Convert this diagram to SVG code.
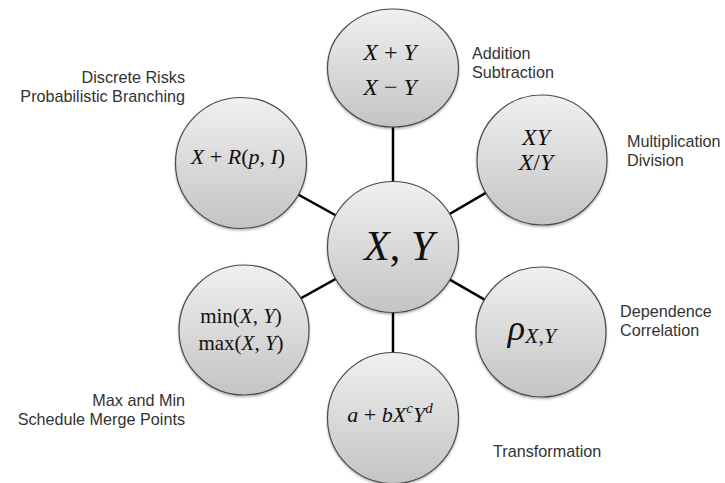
<svg xmlns="http://www.w3.org/2000/svg" width="725" height="483" viewBox="0 0 725 483">
<defs>
<linearGradient id="g" x1="0" y1="0" x2="0" y2="1">
<stop offset="0" stop-color="#f0f0f0"/>
<stop offset="1" stop-color="#c4c4c4"/>
</linearGradient>
<filter id="sh" x="-10%" y="-10%" width="120%" height="125%">
<feDropShadow dx="0" dy="1.5" stdDeviation="1.2" flood-color="#000" flood-opacity="0.3"/>
</filter>
<style>
.n{fill:url(#g);stroke:#4a4a4a;stroke-width:1.2;filter:url(#sh)}
.c line{stroke:#000;stroke-width:2.5}
.lbl{font-family:"Liberation Sans",Arial,sans-serif;font-size:16.2px;fill:#333}
.r{text-anchor:end}
.m{font-family:"Liberation Serif","Times New Roman",serif;font-style:italic;fill:#111;text-anchor:middle}
.u{font-style:normal}
</style>
</defs>
<rect width="725" height="483" fill="#fff"/>
<g id="connectors" class="c">
<line x1="393" y1="247" x2="393" y2="68"/>
<line x1="393" y1="247" x2="542" y2="160"/>
<line x1="393" y1="247" x2="541" y2="332"/>
<line x1="393" y1="247" x2="393" y2="418"/>
<line x1="393" y1="247" x2="244" y2="330"/>
<line x1="393" y1="247" x2="241" y2="163"/>
</g>
<g id="center">
<circle class="n" cx="393" cy="247" r="65.5"/>
<text class="m" x="399" y="260" font-size="42">X<tspan class="u">, </tspan>Y</text>
</g>
<g id="addsub">
<ellipse class="n" cx="393" cy="68" rx="65.5" ry="59"/>
<text class="m" x="390" y="60" font-size="24">X <tspan class="u">+</tspan> Y</text>
<text class="m" x="390" y="95" font-size="24">X <tspan class="u">−</tspan> Y</text>
</g>
<g id="multdiv">
<circle class="n" cx="542" cy="160" r="65"/>
<text class="m" x="536" y="145" font-size="24">XY</text>
<text class="m" x="536" y="170" font-size="24">X<tspan class="u">/</tspan>Y</text>
</g>
<g id="dependence">
<circle class="n" cx="541" cy="332" r="65"/>
<text class="m" x="532" y="340" font-size="36">ρ<tspan font-size="22" dy="3">X<tspan class="u">,</tspan>Y</tspan></text>
</g>
<g id="transformation">
<circle class="n" cx="393" cy="418" r="65.5"/>
<text class="m" x="390" y="422" font-size="22">a <tspan class="u">+</tspan> bX<tspan font-size="15" dy="-9">c</tspan><tspan dy="9">Y</tspan><tspan font-size="15" dy="-9">d</tspan></text>
</g>
<g id="minmax">
<circle class="n" cx="244" cy="330" r="65"/>
<text class="m" x="241" y="323" font-size="21"><tspan class="u">min(</tspan>X<tspan class="u">, </tspan>Y<tspan class="u">)</tspan></text>
<text class="m" x="241" y="350" font-size="21"><tspan class="u">max(</tspan>X<tspan class="u">, </tspan>Y<tspan class="u">)</tspan></text>
</g>
<g id="discrete">
<circle class="n" cx="241" cy="163" r="65.5"/>
<text class="m" x="238" y="164" font-size="22">X <tspan class="u">+</tspan> R<tspan class="u">(</tspan>p<tspan class="u">, </tspan>I<tspan class="u">)</tspan></text>
</g>
<g id="labels">
<text class="lbl" x="472" y="59">Addition</text>
<text class="lbl" x="472" y="78">Subtraction</text>
<text class="lbl" x="627" y="147">Multiplication</text>
<text class="lbl" x="627" y="166">Division</text>
<text class="lbl" x="620" y="317">Dependence</text>
<text class="lbl" x="620" y="336">Correlation</text>
<text class="lbl" x="493" y="457">Transformation</text>
<text class="lbl r" x="185" y="83">Discrete Risks</text>
<text class="lbl r" x="185" y="102">Probabilistic Branching</text>
<text class="lbl r" x="185" y="406">Max and Min</text>
<text class="lbl r" x="185" y="425">Schedule Merge Points</text>
</g>
</svg>
